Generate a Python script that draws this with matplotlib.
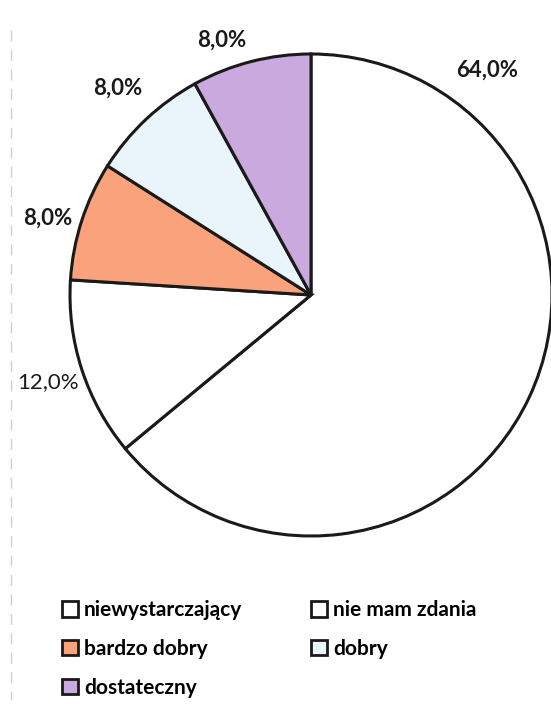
import matplotlib.pyplot as plt
from matplotlib.patches import Patch

plt.rcParams["font.family"] = ["Lato", "DejaVu Sans"]

# slices clockwise from 12 o'clock
categories = ["niewystarczający", "nie mam zdania", "bardzo dobry", "dobry", "dostateczny"]
values = [64.0, 12.0, 8.0, 8.0, 8.0]
colors = ["#ffffff", "#ffffff", "#f9a27c", "#eaf4fb", "#c9a9de"]
label_weight = ["bold", "normal", "bold", "bold", "bold"]
# label positions in pixels (x, y from top)
label_pos = [(487, 70), (48, 382), (48, 218), (118, 88), (222, 40)]
# matplotlib fills legend columns first; this gives the reference's row order
legend_order = ["niewystarczający", "bardzo dobry", "dostateczny", "nie mam zdania", "dobry"]

W, H = 551, 705
fig = plt.figure(figsize=(W / 100, H / 100), dpi=100)
ax = fig.add_axes([0, 0, 1, 1])

cx, cy, r = 311, H - 295, 241
ax.pie(values, colors=colors, startangle=90, counterclock=False,
       center=(cx, cy), radius=r, frame=True,
       wedgeprops=dict(edgecolor="#1a1a1a", linewidth=2.2))
ax.set_xlim(0, W)
ax.set_ylim(0, H)
ax.set_aspect("equal")
ax.axis("off")

for v, (x, y), w in zip(values, label_pos, label_weight):
    ax.text(x, H - y, f"{v:.1f}".replace(".", ",") + "%", ha="center", va="center",
            fontsize=16, fontweight=w, color="#1a1a1a")

# faint scan edge on the left
ax.plot([11, 11], [H - 30, H - 700], color="#d0d0d0", lw=1, ls=(0, (8, 6)))

# legend
handles = [Patch(facecolor=colors[categories.index(c)], edgecolor="#1a1a1a", linewidth=2)
           for c in legend_order]
fig.legend(handles, legend_order, loc="upper left", bbox_to_anchor=(54 / W, 1 - 592 / H),
           ncol=2, frameon=False, prop=dict(size=15, weight="bold"),
           handlelength=0.75, handleheight=0.75, handletextpad=0.3,
           columnspacing=3.3, labelspacing=0.9, borderaxespad=0)

fig.savefig("out.png", dpi=100, facecolor="white")
